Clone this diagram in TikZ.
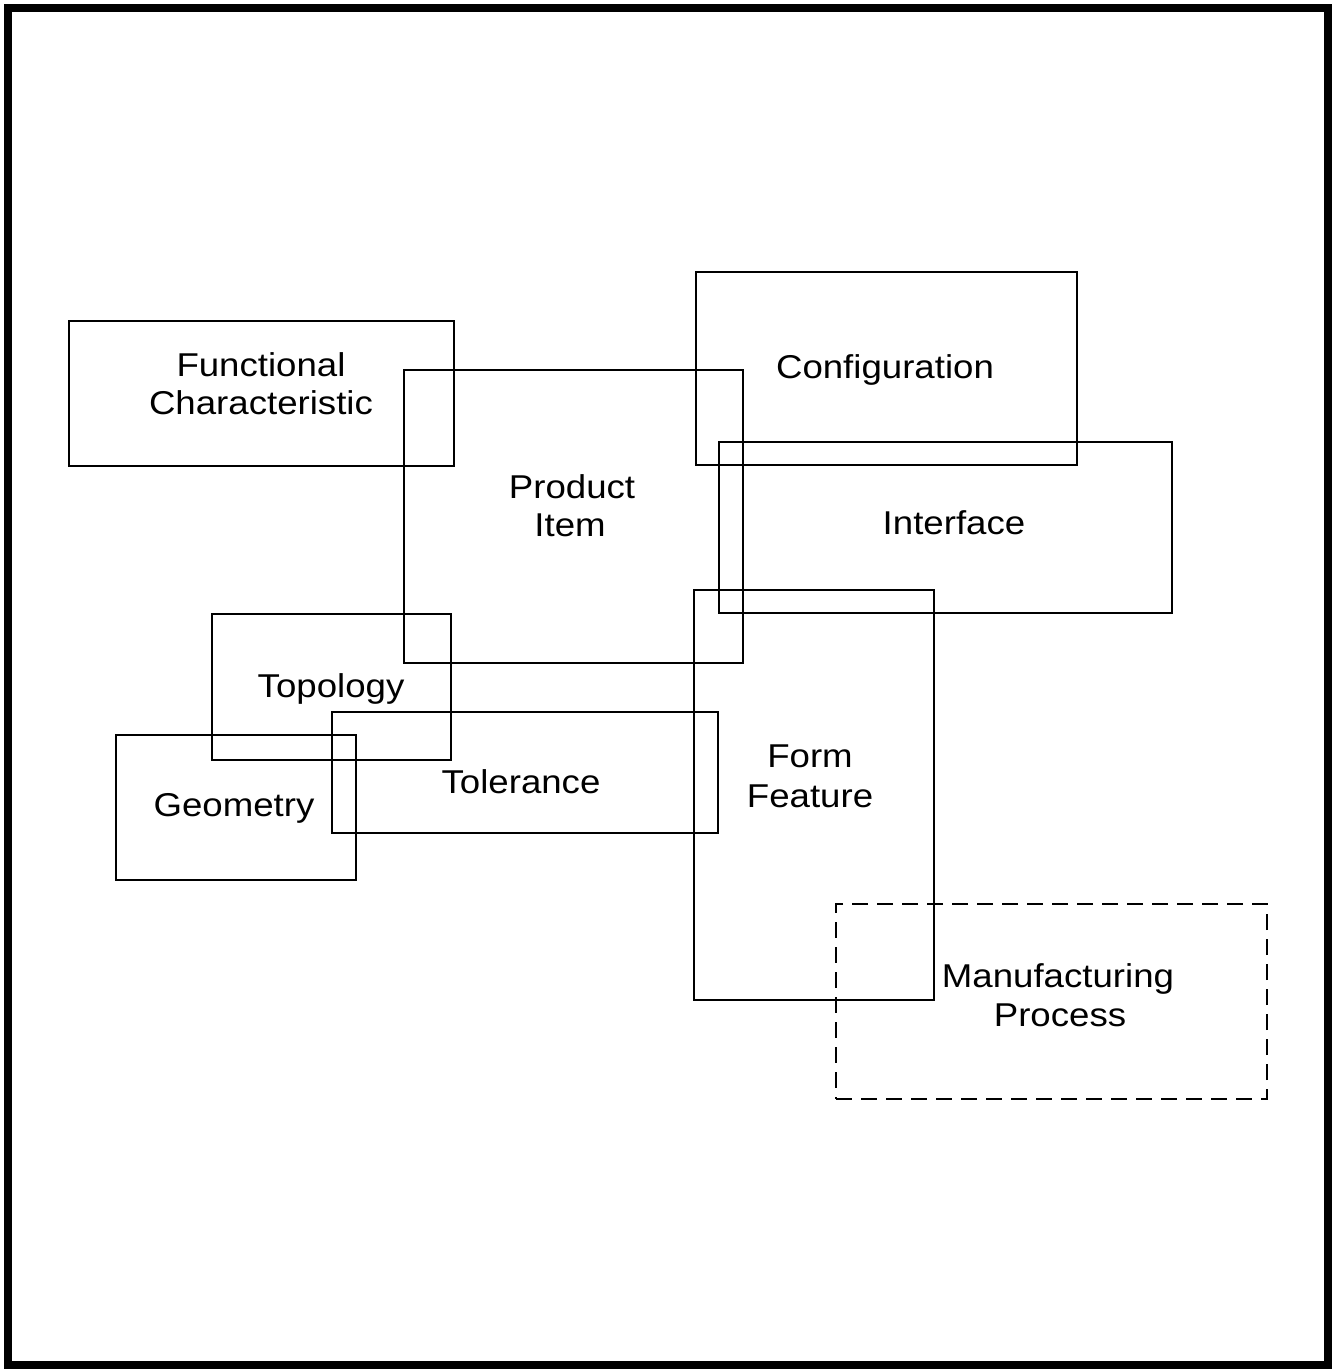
\documentclass[tikz,border=0pt]{standalone}
\usepackage{fontspec}
\setmainfont{Liberation Sans}[FakeStretch=1.11]
\begin{document}
\begin{tikzpicture}[x=1pt,y=-1pt,
  frame/.style={draw=black, line width=8pt},
  box/.style={draw=black, line width=2.8pt, rectangle, inner sep=0pt, outer sep=0pt, anchor=north west},
  dbox/.style={box, dash pattern=on 16pt off 9pt},
  lbl/.style={anchor=base, inner sep=0pt, outer sep=0pt, font=\fontsize{33}{39}\selectfont}]
\useasboundingbox (0,0) rectangle (1332,1370);
\fill[white] (0,0) rectangle (1332,1370);
\draw[frame] (8,8) rectangle (1328,1365);
% boxes
\node[box, minimum width=385pt, minimum height=145pt] (fc) at (69,321) {};
\node[box, minimum width=339pt, minimum height=293pt] (pi) at (404,370) {};
\node[box, minimum width=381pt, minimum height=193pt] (cf) at (696,272) {};
\node[box, minimum width=453pt, minimum height=171pt] (if) at (719,442) {};
\node[box, minimum width=240pt, minimum height=410pt] (ff) at (694,590) {};
\node[box, minimum width=239pt, minimum height=146pt] (tp) at (212,614) {};
\node[box, minimum width=386pt, minimum height=121pt] (tl) at (332,712) {};
\node[box, minimum width=240pt, minimum height=145pt] (gm) at (116,735) {};
\node[dbox, minimum width=431pt, minimum height=195pt] (mp) at (836,904) {};
% labels
\node[lbl] (fc1) at (261,376) {Functional};
\node[lbl] (fc2) at (261,414) {Characteristic};
\node[lbl] (pi1) at (572,498) {Product};
\node[lbl] (pi2) at (570,536) {Item};
\node[lbl] (cf1) at (885,378) {Configuration};
\node[lbl] (if1) at (954,534) {Interface};
\node[lbl] (ff1) at (810,767) {Form};
\node[lbl] (ff2) at (810,807) {Feature};
\node[lbl] (tp1) at (331,697) {Topology};
\node[lbl] (tl1) at (521,793) {Tolerance};
\node[lbl] (gm1) at (234,816) {Geometry};
\node[lbl] (mp1) at (1058,987) {Manufacturing};
\node[lbl] (mp2) at (1060,1026) {Process};
\end{tikzpicture}
\end{document}
